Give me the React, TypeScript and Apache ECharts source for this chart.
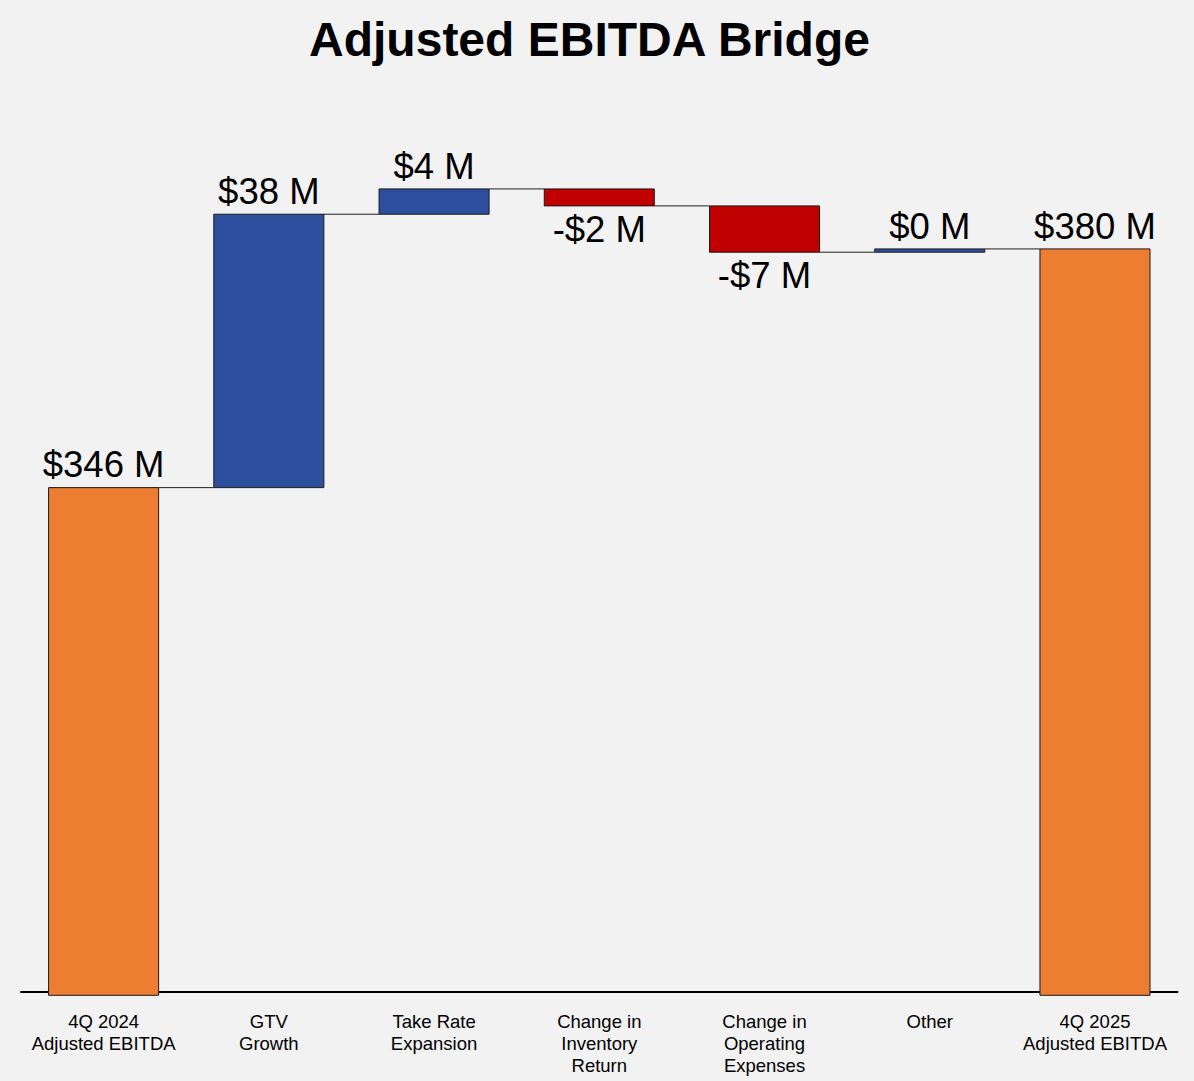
import React, { useEffect, useRef } from "react";
import * as echarts from "echarts";

// ---- Data ----
const categories: string[] = [
  "4Q 2024\nAdjusted EBITDA",
  "GTV\nGrowth",
  "Take Rate\nExpansion",
  "Change in\nInventory\nReturn",
  "Change in\nOperating\nExpenses",
  "Other",
  "4Q 2025\nAdjusted EBITDA",
];
const startValue = 346.4; // $M
const deltas: number[] = [38.45, 3.56, -2.39, -6.51, 0.46]; // $M
const endValue = 379.97; // $M

const yMin = 275;
const yMax = 400;

const COLOR_TOTAL = "#ED7D31";
const COLOR_UP = "#2D4F9E";
const COLOR_DOWN = "#C00000";
const FONT = "'Liberation Sans', Arial, Helvetica, sans-serif";

function fmt(v: number): string {
  return v < 0 ? `-$${Math.round(-v)} M` : `$${Math.round(v)} M`;
}

export default function App() {
  const ref = useRef<HTMLDivElement>(null);

  useEffect(() => {
    if (!ref.current) return;
    const chart = echarts.init(ref.current, null, { renderer: "svg" });

    // Build bar rows: [index, low, high, kind(0 total,1 up,2 down), labelValue]
    const rows: number[][] = [];
    const levels: number[][] = []; // connectors [index, level]
    rows.push([0, yMin, startValue, 0, startValue]);
    let running = startValue;
    levels.push([0, running]);
    deltas.forEach((d, k) => {
      const next = running + d;
      rows.push([k + 1, Math.min(running, next), Math.max(running, next), d >= 0 ? 1 : 2, d]);
      running = next;
      levels.push([k + 1, running]);
    });
    rows.push([categories.length - 1, yMin, endValue, 0, endValue]);

    const BAR_FRAC = 0.666;

    const option: any = {
      animation: false,
      backgroundColor: "#f2f2f2",
      title: {
        text: "Adjusted EBITDA Bridge",
        left: 589.5,
        top: 15.2,
        textAlign: "center",
        padding: 0,
        textStyle: {
          fontSize: 48,
          fontWeight: "bold",
          fontFamily: FONT,
          color: "#000",
        },
      },
      grid: { left: 21, right: 16.4, top: 106.5, bottom: 85.7, containLabel: false },
      xAxis: {
        type: "category",
        data: categories,
        offset: -3.3,
        axisLine: { show: true, lineStyle: { color: "#000", width: 1.8 } },
        axisTick: { show: false },
        axisLabel: {
          interval: 0,
          color: "#000",
          fontSize: 18.5,
          lineHeight: 22,
          margin: 18.5,
          fontFamily: FONT,
        },
        splitLine: { show: false },
      },
      yAxis: {
        type: "value",
        min: yMin,
        max: yMax,
        show: false,
        splitLine: { show: false },
      },
      series: [
        {
          type: "custom",
          name: "connectors",
          data: levels,
          encode: { x: 0, y: 1 },
          silent: true,
          renderItem: (params: any, api: any) => {
            const i = api.value(0);
            const lvl = api.value(1);
            const w = api.size([1, 0])[0] * BAR_FRAC;
            const p1 = api.coord([i, lvl]);
            const p2 = api.coord([i + 1, lvl]);
            return {
              type: "line",
              shape: { x1: p1[0] + w / 2, y1: p1[1], x2: p2[0] - w / 2, y2: p2[1] },
              style: { stroke: "#222", lineWidth: 1 },
            };
          },
          z: 1,
        },
        {
          type: "custom",
          name: "bars",
          data: rows,
          encode: { x: 0, y: [1, 2] },
          clip: false,
          renderItem: (params: any, api: any) => {
            const i = api.value(0);
            const lo = api.value(1);
            const hi = api.value(2);
            const kind = api.value(3);
            const lab = api.value(4);
            const w = api.size([1, 0])[0] * BAR_FRAC;
            const pTop = api.coord([i, hi]);
            const pBot = api.coord([i, lo]);
            const color = kind === 0 ? COLOR_TOTAL : kind === 1 ? COLOR_UP : COLOR_DOWN;
            const neg = kind === 2;
            return {
              type: "group",
              children: [
                {
                  type: "rect",
                  shape: { x: pTop[0] - w / 2, y: pTop[1], width: w, height: pBot[1] - pTop[1] },
                  style: { fill: color, stroke: "#1a1a1a", lineWidth: 1 },
                },
                {
                  type: "text",
                  x: pTop[0],
                  y: neg ? pBot[1] + 5 : pTop[1] - 4.2,
                  style: {
                    text: fmt(lab),
                    fontSize: 36.5,
                    fontFamily: FONT,
                    fill: "#000",
                    align: "center",
                    verticalAlign: neg ? "top" : "bottom",
                  },
                },
              ],
            };
          },
          z: 2,
        },
      ],
    };

    chart.setOption(option);
    return () => {
      chart.dispose();
    };
  }, []);

  return (
    <div
      ref={ref}
      style={{
        position: "fixed",
        left: 0,
        top: 0,
        width: 1194,
        height: 1081,
        background: "#f2f2f2",
      }}
    />
  );
}
